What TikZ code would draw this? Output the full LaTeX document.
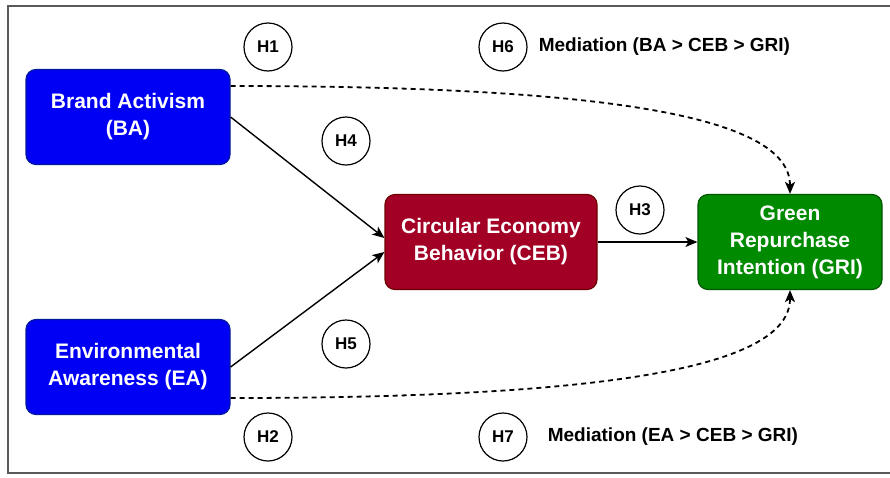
\documentclass[tikz,border=0pt]{standalone}
\usepackage{fontspec}
\setmainfont{Liberation Sans}
\usetikzlibrary{arrows.meta}
\usetikzlibrary{positioning}
\definecolor{actBlue}{HTML}{0000F5}
\definecolor{actBlueLine}{HTML}{001A9C}
\definecolor{cebRed}{HTML}{A20025}
\definecolor{cebRedLine}{HTML}{6F0000}
\definecolor{griGreen}{HTML}{008A00}
\definecolor{griGreenLine}{HTML}{005700}

\begin{document}
\begin{tikzpicture}[x=1pt, y=-1pt,
  factor/.style={rounded corners=10pt, line width=1.2pt, minimum height=95pt, inner sep=0,
    text=white, align=center, font=\fontsize{21}{27}\selectfont\bfseries},
  hyp/.style={circle, draw, line width=1.2pt, fill=white, minimum size=48pt, inner sep=0,
    font=\fontsize{17}{20}\selectfont\bfseries},
  medtext/.style={inner sep=0, font=\fontsize{19}{22}\selectfont\bfseries},
  link/.style={line width=1.4pt, -{Stealth[length=12pt, width=10pt, inset=3pt]}},
  medlink/.style={link, line width=1.8pt, dash pattern=on 5pt off 4pt}]
\useasboundingbox (0,0) rectangle (890,477);
\draw[black!65, line width=1.5pt] (8,6) rectangle (900,473);

% factors
\node[factor, draw=actBlueLine, fill=actBlue, minimum width=204pt] (ba) at (128,117) {Brand Activism\\(BA)};
\node[factor, draw=actBlueLine, fill=actBlue, minimum width=204pt] (ea) at (128,367) {Environmental\\Awareness (EA)};
\node[factor, draw=cebRedLine, fill=cebRed, minimum width=212pt] (ceb) at (491,242) {Circular Economy\\Behavior (CEB)};
\node[factor, draw=griGreenLine, fill=griGreen, minimum width=184pt] (gri) at (790,242) {Green\\Repurchase\\Intention (GRI)};

% hypotheses
\node[hyp] (h1) at (268,47) {H1};
\node[hyp] (h2) at (268,437) {H2};
\node[hyp] (h3) at (640,210) {H3};
\node[hyp] (h4) at (346,141) {H4};
\node[hyp] (h5) at (346,344) {H5};
\node[hyp] (h6) at (503,47) {H6};
\node[hyp] (h7) at (503,437) {H7};
\node[medtext, right=11pt of h6] (m6) {Mediation (BA > CEB > GRI)};
\node[medtext, right=20pt of h7] (m7) {Mediation (EA > CEB > GRI)};

% paths
\draw[link] (ba.east) -- ([yshift=4pt]ceb.west);
\draw[link] (ea.east) -- ([yshift=-10pt]ceb.west);
\draw[link] (ceb.east) -- (gri.west);
\draw[medlink] ([yshift=31pt]ba.east) .. controls +(390,0) and +(0,-75) .. (gri.north);
\draw[medlink] ([yshift=-31pt]ea.east) .. controls +(390,0) and +(0,75) .. (gri.south);
\end{tikzpicture}
\end{document}
